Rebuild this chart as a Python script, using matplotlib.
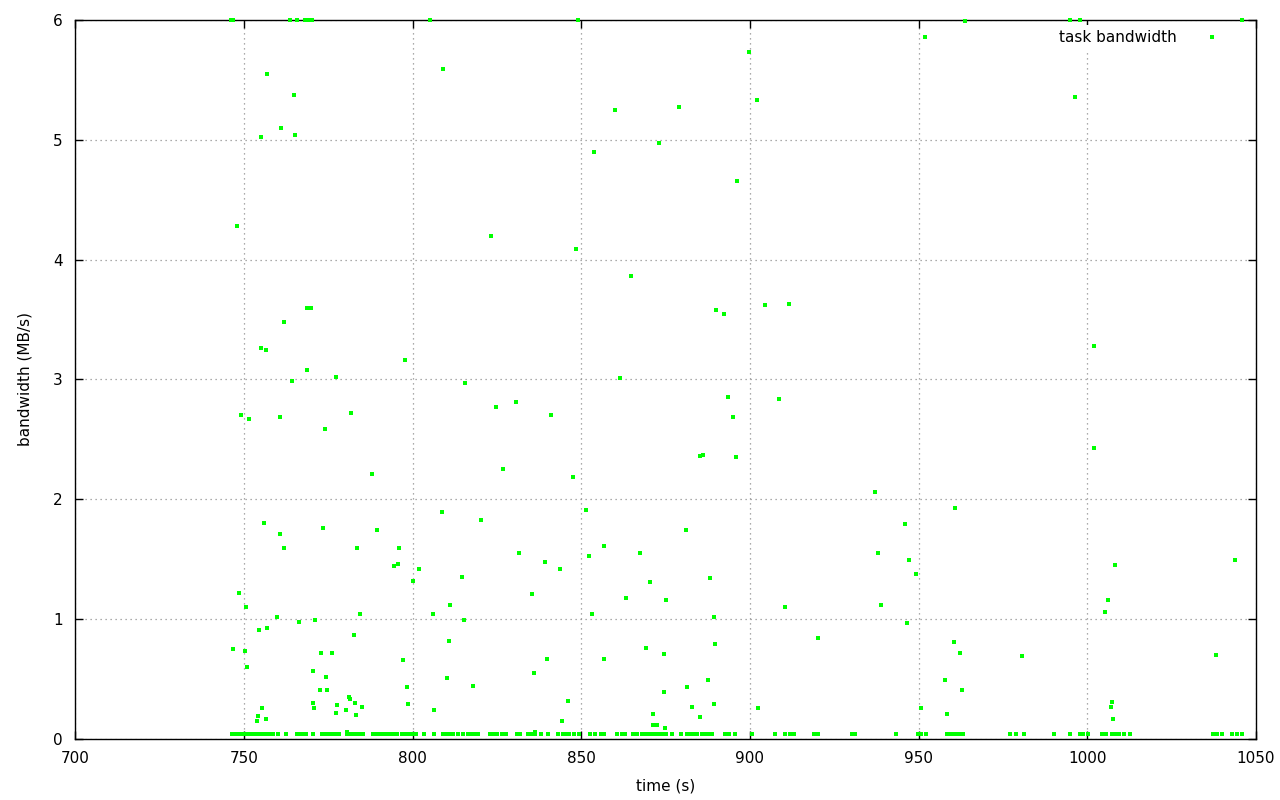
import matplotlib.pyplot as plt
import numpy as np

# bandwidth samples sitting on the floor (~0.04 MB/s)
t_low = [746.4, 747.0, 747.6, 748.2, 748.8, 749.4, 750.0, 750.6, 751.2, 751.8,
         752.4, 753.0, 753.5, 754.1, 754.7, 755.3, 755.9, 756.8, 757.7, 758.7,
         760.2, 762.4, 765.6, 766.6, 767.6, 768.4, 770.4, 773.0, 774.3, 775.3,
         776.3, 777.3, 778.2, 780.6, 781.4, 782.4, 783.4, 784.4, 785.2, 788.3,
         789.3, 790.3, 791.3, 792.3, 793.3, 794.1, 795.4, 796.7, 797.7, 798.7,
         799.7, 800.9, 803.4, 806.4, 809.1, 810.1, 811.1, 812.0, 813.5, 814.8,
         816.5, 817.5, 818.5, 819.4, 822.9, 823.9, 824.9, 826.4, 827.7, 830.8,
         831.8, 834.3, 835.3, 836.3, 838.2, 840.2, 843.2, 844.5, 845.4, 846.4,
         847.9, 849.4, 852.6, 854.0, 855.7, 856.7, 860.7, 862.0, 862.9, 865.4,
         866.6, 868.1, 869.1, 870.1, 871.0, 872.0, 873.0, 874.0, 875.0, 877.0,
         879.7, 881.2, 882.2, 883.2, 884.2, 885.7, 886.7, 887.6, 888.8, 892.6,
         893.8, 895.5, 900.5, 907.5, 910.4, 911.9, 912.4, 913.0, 919.0, 920.2,
         930.4, 931.1, 943.3, 949.7, 950.7, 952.2, 958.3, 959.3, 960.3, 961.3,
         962.3, 963.2, 977.2, 979.0, 981.3, 990.2, 995.0, 997.8, 998.8, 1000.1,
         1004.4, 1005.5, 1007.5, 1008.5, 1009.5, 1010.9, 1012.7, 1037.4, 1038.4,
         1040.1, 1042.8, 1044.3, 1045.9]
bw_low = [0.04] * len(t_low)

# samples at the top edge (6 MB/s)
t_top = [746.0, 746.3, 746.6, 763.6, 765.7, 768.1, 769.0, 770.1, 805.1, 849.0,
         994.9, 997.8, 1045.9]
bw_top = [6.0] * len(t_top)

# the rest of the scattered samples
t_mid = [747.9, 756.8, 764.8, 765.1, 755.0, 760.9, 809.0, 748.5, 749.1, 751.5,
         755.0, 756.5, 761.8, 764.2, 760.7, 768.7, 768.7, 769.9, 777.3, 774.0,
         755.9, 760.7, 761.8, 773.4, 787.9, 789.4, 795.9, 794.4, 795.6, 797.7,
         781.7, 783.5, 800.1, 801.9,
         746.8, 750.7, 750.4, 751.0, 754.5, 756.9, 759.9, 766.4, 771.1, 784.5,
         782.7, 772.9, 776.2, 797.2, 770.5, 774.4, 772.6, 774.7, 798.4, 798.7,
         770.5, 770.8, 755.4, 754.2, 753.9, 756.6, 781.2, 781.5, 783.0, 784.9,
         777.6, 777.3, 780.3, 783.3, 780.6, 806.1, 811.1, 815.3, 810.8, 810.3,
         818.0, 806.4,
         875.2, 853.2, 889.4, 910.5, 889.7, 869.3, 874.6, 839.9, 856.8, 836.1,
         887.6, 881.4, 874.6, 846.1, 882.9, 889.4, 902.5, 871.3, 885.3, 844.4,
         871.3, 872.5, 874.9, 836.3,
         938.9, 946.6, 1005.3, 1006.2, 920.2, 960.5, 962.3, 980.7, 1038.2, 957.9,
         962.9, 950.8, 958.5, 1007.4, 1007.1, 1007.7,
         808.7, 820.3, 814.6, 815.5, 823.2, 824.7, 826.8, 830.6, 831.5, 835.4,
         839.2, 841.0, 843.7, 847.5, 848.4, 851.4, 852.3, 853.8, 856.7, 860.0,
         861.4, 863.2, 864.7, 867.4, 870.4, 873.0, 878.9, 881.0, 885.1, 886.1,
         888.1, 889.9, 892.3, 893.5, 895.0, 896.2, 895.9, 899.7, 902.1, 904.5,
         908.6, 911.6, 937.1, 938.0, 946.0, 947.1, 949.2, 951.9, 960.8, 963.8,
         996.4, 1001.9, 1001.9, 1008.2, 1043.8]
bw_mid = [4.28, 5.55, 5.37, 5.04, 5.02, 5.10, 5.59, 1.22, 2.70, 2.67,
          3.26, 3.25, 3.48, 2.99, 2.69, 3.08, 3.60, 3.60, 3.02, 2.59,
          1.80, 1.71, 1.59, 1.76, 2.21, 1.74, 1.59, 1.44, 1.46, 3.16,
          2.72, 1.59, 1.32, 1.42,
          0.75, 1.10, 0.73, 0.60, 0.91, 0.93, 1.02, 0.98, 0.99, 1.04,
          0.87, 0.72, 0.72, 0.66, 0.57, 0.52, 0.41, 0.41, 0.43, 0.29,
          0.30, 0.26, 0.26, 0.19, 0.15, 0.17, 0.35, 0.33, 0.30, 0.27,
          0.28, 0.22, 0.24, 0.20, 0.06, 1.04, 1.12, 0.99, 0.82, 0.51,
          0.44, 0.24,
          1.16, 1.04, 1.02, 1.10, 0.79, 0.76, 0.71, 0.67, 0.67, 0.55,
          0.49, 0.43, 0.39, 0.32, 0.27, 0.29, 0.26, 0.21, 0.18, 0.15,
          0.12, 0.12, 0.09, 0.06,
          1.12, 0.97, 1.06, 1.16, 0.84, 0.81, 0.72, 0.69, 0.70, 0.49,
          0.41, 0.26, 0.21, 0.31, 0.27, 0.17,
          1.89, 1.83, 1.35, 2.97, 4.20, 2.77, 2.25, 2.81, 1.55, 1.21,
          1.48, 2.70, 1.42, 2.19, 4.09, 1.91, 1.53, 4.90, 1.61, 5.25,
          3.01, 1.18, 3.86, 1.55, 1.31, 4.97, 5.27, 1.74, 2.36, 2.37,
          1.34, 3.58, 3.55, 2.85, 2.69, 4.66, 2.35, 5.73, 5.33, 3.62,
          2.84, 3.63, 2.06, 1.55, 1.79, 1.49, 1.38, 5.86, 1.93, 5.99,
          5.36, 3.28, 2.43, 1.45, 1.49]

t = np.array(t_low + t_top + t_mid)
bw = np.array(bw_low + bw_top + bw_mid)

plt.rcParams['font.family'] = 'DejaVu Sans'
fs = 11
fig = plt.figure(figsize=(12.8, 8.0), dpi=100)
ax = fig.add_axes([0.0589, 0.0763, 0.9222, 0.8987])

ax.plot(t, bw, 's', color='#00ff00', markersize=2.3, markeredgewidth=0,
        clip_on=False, label='task bandwidth', zorder=3)

ax.set_xlim(700, 1050)
ax.set_ylim(0, 6)
ax.set_xticks(np.arange(700, 1051, 50))
ax.set_yticks(np.arange(0, 7, 1))
ax.tick_params(direction='in', length=6, width=1, top=True, right=True,
               labelsize=fs)
ax.tick_params(axis='x', pad=9)
ax.tick_params(axis='y', pad=9)
ax.grid(True, color='#909090', linestyle=(0, (1, 3)), linewidth=0.9)
for s in ax.spines.values():
    s.set_linewidth(1.0)

ax.set_xlabel('time (s)', fontsize=fs, labelpad=9)
ax.set_ylabel('bandwidth (MB/s)', fontsize=fs, labelpad=15)

leg = ax.legend(loc='upper right', bbox_to_anchor=(0.9865, 1.0),
                markerfirst=False, frameon=True,
                fancybox=False, edgecolor='none', framealpha=1,
                fontsize=fs, handlelength=2.3, handletextpad=1.2,
                borderaxespad=0.35, borderpad=0.3, markerscale=1.0)

fig.savefig('out.png', dpi=100)
